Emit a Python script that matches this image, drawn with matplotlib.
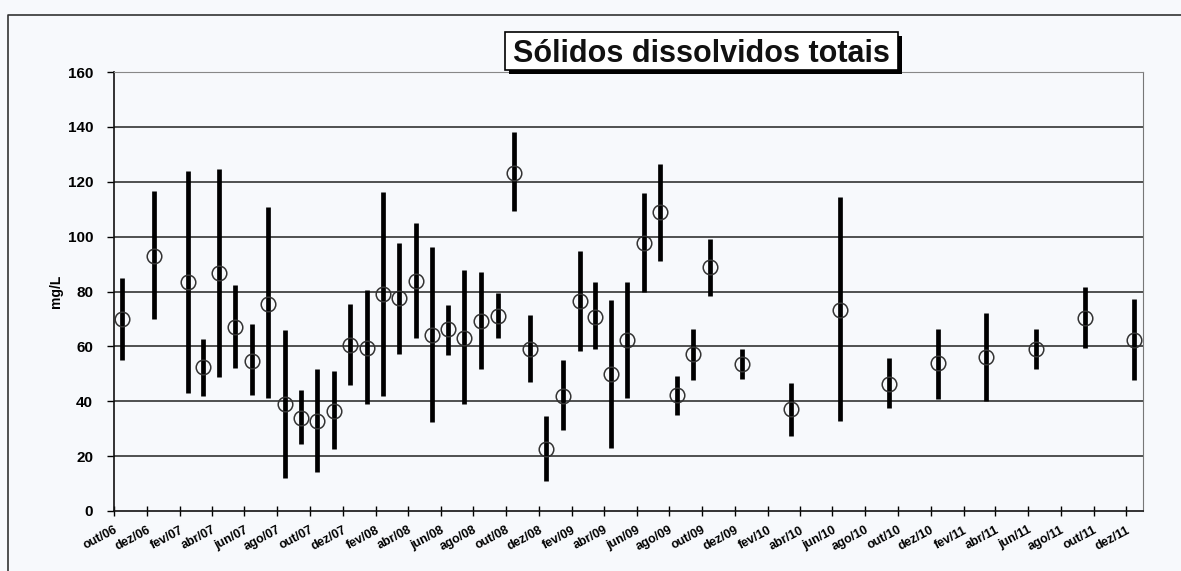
import datetime as dt

import matplotlib
matplotlib.use("Agg")
import matplotlib.pyplot as plt
import matplotlib.dates as mdates
from matplotlib.lines import Line2D
from matplotlib.ticker import FuncFormatter

# sampling months (year, month), mean, minimum and maximum in mg/L
months = [
    (2006, 10), (2006, 12), (2007, 2), (2007, 3), (2007, 4), (2007, 5),
    (2007, 6), (2007, 7), (2007, 8), (2007, 9), (2007, 10), (2007, 11),
    (2007, 12), (2008, 1), (2008, 2), (2008, 3), (2008, 4), (2008, 5),
    (2008, 6), (2008, 7), (2008, 8), (2008, 9), (2008, 10), (2008, 11),
    (2008, 12), (2009, 1), (2009, 2), (2009, 3), (2009, 4), (2009, 5),
    (2009, 6), (2009, 7), (2009, 8), (2009, 9), (2009, 10), (2009, 12),
    (2010, 3), (2010, 6), (2010, 9), (2010, 12), (2011, 3), (2011, 6),
    (2011, 9), (2011, 12),
]
mean_vals = [
    69.8, 93.0, 83.6, 52.4, 86.7, 67.1, 54.6, 75.5, 39.0, 33.9, 32.9, 36.5,
    60.4, 59.4, 79.0, 77.7, 83.8, 64.1, 66.2, 63.1, 69.2, 70.9, 123.2, 58.9,
    22.5, 41.9, 76.6, 70.8, 49.9, 62.5, 97.7, 108.8, 42.2, 57.4, 88.8, 53.4,
    37.0, 73.3, 46.3, 53.8, 56.0, 58.9, 70.2, 62.3,
]
min_vals = [
    54.9, 69.8, 43.0, 41.8, 48.7, 52.1, 42.1, 41.2, 12.0, 24.3, 14.1, 22.5,
    45.8, 39.1, 41.8, 57.4, 62.9, 32.6, 57.0, 39.1, 51.9, 63.1, 109.2, 47.1,
    11.0, 29.5, 58.3, 59.2, 23.1, 41.3, 80.0, 91.1, 35.0, 47.7, 78.4, 48.1,
    27.4, 32.8, 37.4, 40.8, 40.0, 51.6, 59.3, 47.7,
]
max_vals = [
    84.8, 116.5, 123.8, 62.7, 124.7, 82.2, 68.0, 110.9, 65.8, 44.2, 51.9, 50.9,
    75.5, 80.7, 116.1, 97.8, 104.9, 96.4, 74.9, 87.8, 87.1, 79.3, 138.1, 71.4,
    34.6, 55.2, 94.7, 83.5, 76.9, 83.3, 116.0, 126.4, 49.3, 66.5, 99.3, 59.0,
    46.5, 114.5, 55.9, 66.4, 72.3, 66.2, 81.6, 77.3,
]
month_names = ["jan", "fev", "mar", "abr", "mai", "jun",
               "jul", "ago", "set", "out", "nov", "dez"]
y_ticks = [0, 20, 40, 60, 80, 100, 120, 140, 160]

title = "Sólidos dissolvidos totais"
y_label = "mg/L"

W, H = 1181, 571
bg = "#f7f9fc"

plt.rcParams["font.family"] = ["Liberation Sans", "DejaVu Sans"]

fig = plt.figure(figsize=(W / 100, H / 100), dpi=100, facecolor=bg)
ax = fig.add_axes([114 / W, 1 - 511 / H, (1143 - 114) / W, (511 - 72) / H])
ax.set_facecolor(bg)

dates = [dt.datetime(y, m, 15) for y, m in months]

# horizontal grid
for v in y_ticks[1:-1]:
    ax.axhline(v, color="#222222", lw=1.1, zorder=1)

ax.vlines(dates, min_vals, max_vals, color="black", lw=3.4, zorder=2)
ax.plot(dates, mean_vals, linestyle="none", marker="o", markersize=10.5,
        markerfacecolor="none", markeredgecolor="#333333",
        markeredgewidth=1.1, zorder=3)

ax.set_xlim(dt.datetime(2006, 10, 1), dt.datetime(2012, 1, 1))
ax.set_ylim(0, 160)

ax.xaxis.set_major_locator(mdates.MonthLocator(bymonth=[2, 4, 6, 8, 10, 12]))
ax.xaxis.set_major_formatter(FuncFormatter(
    lambda x, pos: "%s/%02d" % (month_names[mdates.num2date(x).month - 1],
                                mdates.num2date(x).year % 100)))
ax.set_yticks(y_ticks)

for lab in ax.get_xticklabels():
    lab.set_rotation(28)
    lab.set_ha("right")
    lab.set_rotation_mode("anchor")
    lab.set_fontweight("bold")
    lab.set_fontsize(9)
for lab in ax.get_yticklabels():
    lab.set_fontweight("bold")
    lab.set_fontsize(11)

ax.tick_params(axis="x", direction="inout", length=7, width=1, pad=6)
ax.tick_params(axis="y", direction="out", length=5, width=1, pad=10)

ax.spines["left"].set_color("#111111")
ax.spines["bottom"].set_color("#111111")
ax.spines["left"].set_linewidth(1.2)
ax.spines["bottom"].set_linewidth(1.2)
ax.spines["top"].set_color("#888888")
ax.spines["top"].set_linewidth(0.8)
ax.spines["top"].set_linestyle((0, (1, 1)))
ax.spines["right"].set_color("#777777")
ax.spines["right"].set_linewidth(0.8)

ax.set_ylabel(y_label, fontweight="bold", fontsize=10, labelpad=3)

# title in a box with a drop shadow
bx0, bx1, by0, by1 = 505, 898, 32, 70
fig.patches.append(plt.Rectangle(
    ((bx0 + 4) / W, 1 - (by1 + 4) / H), (bx1 - bx0) / W, (by1 - by0) / H,
    transform=fig.transFigure, facecolor="black", edgecolor="none"))
fig.patches.append(plt.Rectangle(
    (bx0 / W, 1 - by1 / H), (bx1 - bx0) / W, (by1 - by0) / H,
    transform=fig.transFigure, facecolor="white", edgecolor="black", lw=1.2))
fig.text((bx0 + bx1) / 2 / W, 1 - (by0 + by1) / 2 / H, title,
         ha="center", va="center_baseline", fontsize=22, fontweight="bold",
         color="#111111")

# outer chart frame
fig.lines.append(Line2D([8 / W, 8 / W, 1], [0, 1 - 15 / H, 1 - 15 / H],
                        transform=fig.transFigure, color="#333333", lw=1.2))

fig.savefig("out.png", dpi=100, facecolor=bg)
